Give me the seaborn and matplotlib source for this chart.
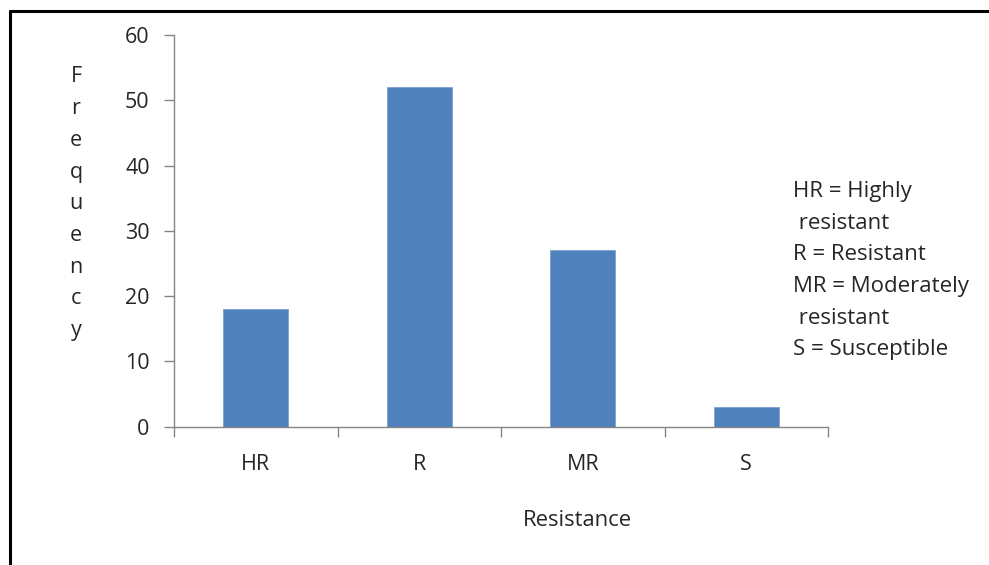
import matplotlib
matplotlib.use("Agg")
import matplotlib.pyplot as plt
from matplotlib.lines import Line2D
import seaborn as sns
import pandas as pd

categories = ["HR", "R", "MR", "S"]
frequency = [18, 52, 27, 3]
y_ticks = [0, 10, 20, 30, 40, 50, 60]
key_lines = ["HR = Highly", " resistant", "R = Resistant",
             "MR = Moderately", " resistant", "S = Susceptible"]

sns.set_theme(style="white")
plt.rcParams["font.family"] = ["Open Sans", "DejaVu Sans"]

text_color = "#262626"
axis_color = "#868686"
bar_color = "#4f81bd"
fs = 15.5

df = pd.DataFrame({"Resistance": categories, "Frequency": frequency})

fig = plt.figure(figsize=(9.89, 5.65), dpi=100)
ax = fig.add_axes([174 / 989, 1 - 426.7 / 565, (828 - 174) / 989, (426.7 - 35) / 565])

sns.barplot(data=df, x="Resistance", y="Frequency", color=bar_color,
            width=0.4, edgecolor="#7aa2d4", linewidth=0.6, saturation=1, ax=ax)

ax.set_xlim(-0.5, len(categories) - 0.5)
ax.set_ylim(0, 60)
ax.set_yticks(y_ticks)
ax.set_yticklabels([str(v) for v in y_ticks])

# category boundaries carry the tick marks on the x axis
ax.set_xticks([i - 0.5 for i in range(len(categories) + 1)], minor=True)
ax.tick_params(axis="x", which="major", length=0, pad=20, labelsize=fs, labelcolor=text_color)
ax.tick_params(axis="x", which="minor", length=7, width=1, color=axis_color, direction="out", bottom=True)
ax.tick_params(axis="y", which="major", length=7, width=1, color=axis_color, direction="out",
               left=True, pad=10.5, labelsize=fs, labelcolor=text_color)

for side in ["top", "right"]:
    ax.spines[side].set_visible(False)
for side in ["left", "bottom"]:
    ax.spines[side].set_color(axis_color)
    ax.spines[side].set_linewidth(1)

ax.set_xlabel("")
ax.set_ylabel("")

# axis titles
fig.text(577 / 989, 1 - 520 / 565, "Resistance", ha="center", va="center",
         fontsize=fs + 0.3, color=text_color)
for i, ch in enumerate("Frequency"):
    fig.text(76 / 989, 1 - (77 + i * 31.7) / 565, ch, ha="center", va="center",
             fontsize=fs, color=text_color)

# key text on the right
for i, line in enumerate(key_lines):
    fig.text(793 / 989, 1 - (192 + i * 31.5) / 565, line, ha="left", va="center",
             fontsize=fs + 0.5, color=text_color)

# outer frame (left and top edges)
fig.add_artist(Line2D([10 / 989, 10 / 989], [0, 1 - 11 / 565], color="black", lw=2.2,
                      transform=fig.transFigure))
fig.add_artist(Line2D([10 / 989, 1], [1 - 11 / 565, 1 - 11 / 565], color="black", lw=2.2,
                      transform=fig.transFigure))

fig.savefig("out.png", dpi=100, facecolor="white")
